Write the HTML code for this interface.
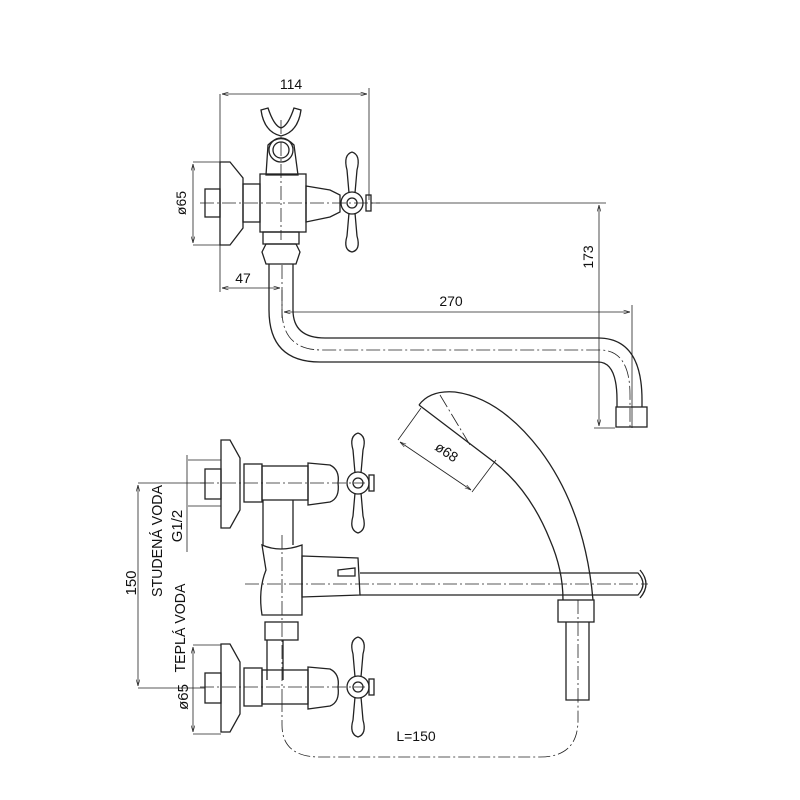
<!DOCTYPE html>
<html><head><meta charset="utf-8"><style>body{margin:0;background:#fff}svg{display:block}text{font-family:"Liberation Sans",sans-serif;fill:#111}</style></head><body>
<svg width="800" height="800" viewBox="0 0 800 800" xmlns="http://www.w3.org/2000/svg">
<defs><marker id="a" markerWidth="8" markerHeight="6" refX="8" refY="3" orient="auto-start-reverse"><path d="M0,0.8 L8,3 L0,5.2" fill="none" stroke="#222" stroke-width="0.8"/></marker></defs>
<g fill="none" stroke="#222" stroke-width="1.3">
<!-- TOP VIEW -->
<path d="M261,110 L268,108 Q274,126 281,128 Q288,126 294,108 L301,110 Q298,132 281,136 Q264,132 261,110Z"/>
<path d="M266,175 L268,145 Q281,132 294,145 L298,175Z"/>
<circle cx="281" cy="150" r="12"/><circle cx="281" cy="150" r="8"/>
<path d="M220,162 L230,162 L243,178 L243,228 L230,245 L220,245Z"/>
<rect x="205" y="189" width="15" height="28"/>
<rect x="243" y="184" width="17" height="38"/>
<rect x="260" y="174" width="46" height="58"/>
<path d="M306,186 L330,190 L340,195 L340,212 L330,217 L306,222Z"/>
<path d="M352,152 Q343,155 347,170 L349,193 M352,152 Q361,155 357,170 L355,193"/>
<path d="M349,213 L347,236 Q343,250 352,252 Q361,250 357,236 L355,213"/>
<circle cx="352" cy="203" r="11"/><circle cx="352" cy="203" r="5"/>
<rect x="366" y="195" width="5" height="16"/>
<rect x="263" y="232" width="36" height="12"/>
<path d="M266,244 L296,244 L300,252 L296,264 L266,264 L262,252Z"/>
<path d="M269,264 L269,310 Q269,362 320,362 L598,362 Q617,362 617,400 L617,407 M293,264 L293,310 Q293,338 325,338 L598,338 Q642,338 642,400 L642,407"/>
<rect x="616" y="407" width="31" height="20"/>
<g stroke-width="0.8">
<path d="M220,94 L220,292 M369,88 L369,200 M371,203 L606,203 M193,162 L220,162 M193,245 L220,245 M632,305 L632,428 M282,290 L282,318 M594,428 L615,428"/>
<path d="M222,94 L367,94" marker-start="url(#a)" marker-end="url(#a)"/>
<path d="M193,164 L193,243" marker-start="url(#a)" marker-end="url(#a)"/>
<path d="M222,288 L280,288" marker-start="url(#a)" marker-end="url(#a)"/>
<path d="M284,312 L630,312" marker-start="url(#a)" marker-end="url(#a)"/>
<path d="M599,205 L599,426" marker-start="url(#a)" marker-end="url(#a)"/>
<path d="M200,203 L380,203 M281,120 L281,240 M282,265 L282,310 Q282,350 322,350 L600,350 Q630,350 630,395 L630,430" stroke-dasharray="14,3,2,3"/>
</g>
<!-- BOTTOM VIEW -->
<g id="v">
<path d="M221,440 L230,440 L240,458 L240,510 L230,528 L221,528Z"/>
<rect x="205" y="469" width="16" height="30"/>
<rect x="244" y="464" width="18" height="38"/>
<rect x="262" y="466" width="46" height="34"/>
<path d="M308,463 L330,465 Q340,470 338,483 Q340,498 330,502 L308,505Z"/>
<path d="M358,433 Q349,436 353,450 L355,473 M358,433 Q367,436 363,450 L361,473"/>
<path d="M355,493 L353,516 Q349,530 358,533 Q367,530 363,516 L361,493"/>
<circle cx="358" cy="483" r="11"/><circle cx="358" cy="483" r="5"/>
<rect x="369" y="475" width="5" height="16"/>
</g>
<use href="#v" transform="translate(0,204)"/>
<path d="M263,500 L263,545 M293,500 L293,545"/>
<path d="M262,545 Q280,553 302,545 L302,615 L262,615 Q258,590 266,570 Z"/>
<path d="M302,556 L358,558 L360,595 L302,597Z"/>
<path d="M338,570 L355,568 L355,576 L338,576Z"/>
<path d="M360,573 L638,573 Q648,584 638,595 L360,595"/>
<path d="M640,570 Q652,584 640,598"/>
<rect x="265" y="622" width="33" height="18"/>
<path d="M267,640 L267,680 M283,640 L283,680"/>
<path d="M419,405 Q430,390 455,392 Q500,398 540,450 Q585,510 593,600 M494,462 Q530,490 550,540 Q563,570 563,600 M419,405 L494,462"/>
<rect x="558" y="600" width="36" height="22"/>
<path d="M566,622 L566,700 L589,700 L589,622"/>
<g stroke-width="0.8">
<path d="M188,460 L221,460 M188,506 L221,506 M138,483 L205,483 M138,688 L205,688 M193,645 L221,645 M193,734 L221,734 M398,440 L421,408 M472,492 L496,460"/>
<path d="M187,455 L187,552"/>
<path d="M138,485 L138,686" marker-start="url(#a)" marker-end="url(#a)"/>
<path d="M193,647 L193,732" marker-start="url(#a)" marker-end="url(#a)"/>
<path d="M400,442 L471,490" marker-start="url(#a)" marker-end="url(#a)"/>
<path d="M200,483 L365,483 M200,687 L365,687 M245,584 L648,584 M282,535 L282,700 M578,600 L578,700 M440,395 L470,445" stroke-dasharray="14,3,2,3"/>
<path d="M282,700 L282,725 Q282,757 320,757 L540,757 Q578,757 578,720 L578,700" stroke-dasharray="12,3,2,3"/>
</g>
</g>
<g font-size="14">
<text x="291" y="89" text-anchor="middle">114</text>
<text x="243" y="283" text-anchor="middle">47</text>
<text x="451" y="306" text-anchor="middle">270</text>
<text transform="translate(186,203) rotate(-90)" text-anchor="middle">ø65</text>
<text transform="translate(593,257) rotate(-90)" text-anchor="middle">173</text>
<text transform="translate(136,583) rotate(-90)" text-anchor="middle" font-size="15">150</text>
<text transform="translate(162,541) rotate(-90)" text-anchor="middle" font-size="15" textLength="112" lengthAdjust="spacingAndGlyphs">STUDENÁ VODA</text>
<text transform="translate(182,526) rotate(-90)" text-anchor="middle" font-size="15">G1/2</text>
<text transform="translate(185,628) rotate(-90)" text-anchor="middle" font-size="15" textLength="89" lengthAdjust="spacingAndGlyphs">TEPLÁ VODA</text>
<text transform="translate(188,697) rotate(-90)" text-anchor="middle" font-size="15">ø65</text>
<text transform="translate(444,456) rotate(34)" text-anchor="middle">ø68</text>
<text x="416" y="741" text-anchor="middle">L=150</text>
</g>
</svg>
</body></html>
